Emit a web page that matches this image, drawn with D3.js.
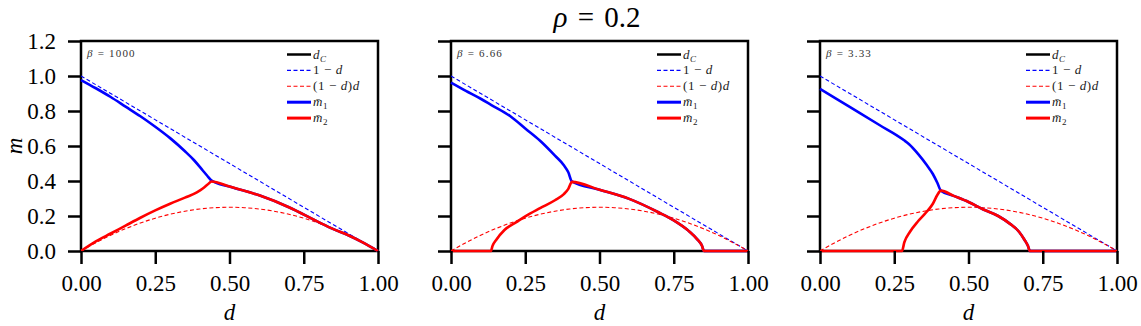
<!DOCTYPE html>
<html>
<head>
<meta charset="utf-8">
<script src="https://cdn.jsdelivr.net/npm/d3@7"></script>
<style>
  body { margin: 0; background: #fff; }
  svg, svg text { font-family: "Liberation Serif", "DejaVu Serif", serif; }
</style>
</head>
<body>
<svg id="plot" width="1141" height="326"></svg>
<script>
// values, [d, m]
var xTicks = [0, 0.25, 0.5, 0.75, 1.0];
var yTicks = [0, 0.2, 0.4, 0.6, 0.8, 1.0, 1.2];
var betaLabels = ['1000', '6.66', '3.33'];
var serif = '"Liberation Serif", "DejaVu Serif", serif';

// dashed guides: 1 - d and (1 - d) d
var oneMinusD = [[0, 1], [1, 0]];
var parabola = [[0, 0], [0.05, 0.0475], [0.1, 0.09], [0.15, 0.1275], [0.2, 0.16], [0.25, 0.1875],
  [0.3, 0.21], [0.35, 0.2275], [0.4, 0.24], [0.45, 0.2475], [0.5, 0.25], [0.55, 0.2475],
  [0.6, 0.24], [0.65, 0.2275], [0.7, 0.21], [0.75, 0.1875], [0.8, 0.16], [0.85, 0.1275],
  [0.9, 0.09], [0.95, 0.0475], [1, 0]];

// beta = 1000
var m1Beta1000 = [[0, 0.977], [0.05, 0.93], [0.1, 0.88], [0.15, 0.825], [0.2, 0.77], [0.25, 0.71],
  [0.3, 0.645], [0.35, 0.57], [0.38, 0.52], [0.41, 0.46], [0.425, 0.43], [0.44, 0.402],
  [0.5, 0.368], [0.6, 0.318], [0.7, 0.25], [0.8, 0.165], [0.85, 0.125], [0.9, 0.09], [0.95, 0.048], [1, 0]];
var m2Beta1000 = [[0, 0], [0.05, 0.055], [0.1, 0.1], [0.15, 0.145], [0.2, 0.19], [0.25, 0.232],
  [0.3, 0.27], [0.35, 0.305], [0.39, 0.335], [0.41, 0.357], [0.425, 0.378], [0.44, 0.397],
  [0.5, 0.368], [0.6, 0.318], [0.7, 0.25], [0.8, 0.165], [0.85, 0.125], [0.9, 0.09], [0.95, 0.048], [1, 0]];

// beta = 6.66
var m1Beta666 = [[0, 0.962], [0.05, 0.915], [0.1, 0.87], [0.136, 0.834], [0.2, 0.77], [0.25, 0.70],
  [0.3, 0.63], [0.35, 0.545], [0.38, 0.49], [0.395, 0.45], [0.407, 0.398],
  [0.5, 0.35], [0.6, 0.298], [0.7, 0.22], [0.75, 0.175], [0.8, 0.115], [0.83, 0.065], [0.845, 0.03],
  [0.852, 0], [1, 0]];
var m2Beta666 = [[0, 0], [0.134, 0], [0.14, 0.03], [0.152, 0.063], [0.18, 0.12], [0.22, 0.165],
  [0.25, 0.198], [0.3, 0.245], [0.35, 0.29], [0.38, 0.325], [0.395, 0.355], [0.407, 0.395],
  [0.5, 0.35], [0.6, 0.298], [0.7, 0.22], [0.75, 0.175], [0.8, 0.115], [0.83, 0.065], [0.845, 0.03],
  [0.852, 0], [1, 0]];

// beta = 3.33
var m1Beta333 = [[0, 0.926], [0.1, 0.823], [0.2, 0.72], [0.282, 0.634], [0.3, 0.61], [0.33, 0.555],
  [0.36, 0.49], [0.38, 0.44], [0.395, 0.39], [0.407, 0.345],
  [0.45, 0.315], [0.5, 0.28], [0.55, 0.237], [0.6, 0.2], [0.64, 0.155], [0.67, 0.11], [0.69, 0.06],
  [0.7, 0.03], [0.707, 0], [1, 0]];
var m2Beta333 = [[0, 0], [0.276, 0], [0.284, 0.05], [0.303, 0.11], [0.33, 0.17], [0.357, 0.22],
  [0.38, 0.27], [0.395, 0.32], [0.407, 0.345],
  [0.45, 0.315], [0.5, 0.28], [0.55, 0.237], [0.6, 0.2], [0.64, 0.155], [0.67, 0.11], [0.69, 0.06],
  [0.7, 0.03], [0.707, 0], [1, 0]];

var panels = [
  { beta: betaLabels[0], m1: m1Beta1000, m2: m2Beta1000 },
  { beta: betaLabels[1], m1: m1Beta666, m2: m2Beta666 },
  { beta: betaLabels[2], m1: m1Beta333, m2: m2Beta333 }
];

var svg = d3.select('#plot');
var lefts = [81, 451, 820];
var plotW = 297;
var plotTop = 41, plotBottom = 251;

// Title
svg.append('text')
  .attr('x', 597).attr('y', 27)
  .attr('text-anchor', 'middle')
  .style('font-family', serif)
  .style('font-size', '29px').style('word-spacing', '3px')
  .html('<tspan font-style="italic">ρ</tspan> = 0.2');

// y label (rotated, like matplotlib)
svg.append('text')
  .attr('transform', 'translate(22,146) rotate(-90)')
  .attr('text-anchor', 'middle')
  .style('font-family', serif)
  .style('font-size', '23px').style('font-style', 'italic')
  .text('m');

var yScale = d3.scaleLinear().domain([0, 1.2]).range([plotBottom, plotTop]);

panels.forEach(function (p, i) {
  var left = lefts[i];
  var xScale = d3.scaleLinear().domain([0, 1]).range([left, left + plotW]);
  var g = svg.append('g');

  var line = d3.line()
    .x(function (d) { return xScale(d[0]); })
    .y(function (d) { return yScale(d[1]); });
  var smooth = d3.line()
    .x(function (d) { return xScale(d[0]); })
    .y(function (d) { return yScale(d[1]); })
    .curve(d3.curveMonotoneX);

  // frame
  g.append('rect')
    .attr('x', left).attr('y', plotTop)
    .attr('width', plotW).attr('height', plotBottom - plotTop)
    .attr('fill', 'none').attr('stroke', '#000').attr('stroke-width', 2.5);

  // dashed guides
  g.append('path').datum(oneMinusD).attr('d', line)
    .attr('fill', 'none').attr('stroke', '#0000ff').attr('stroke-width', 1.1)
    .attr('stroke-dasharray', '4,2.5');
  g.append('path').datum(parabola).attr('d', smooth)
    .attr('fill', 'none').attr('stroke', '#ff0000').attr('stroke-width', 1.1)
    .attr('stroke-dasharray', '4,2.5');

  // order parameters
  g.append('path').datum(p.m1).attr('d', smooth)
    .attr('fill', 'none').attr('stroke', '#0000ff').attr('stroke-width', 2.6);
  g.append('path').datum(p.m2).attr('d', smooth)
    .attr('fill', 'none').attr('stroke', '#ff0000').attr('stroke-width', 2.6);

  // axes
  var xAxis = d3.axisBottom(xScale).tickValues(xTicks)
    .tickFormat(d3.format('.2f')).tickSize(13).tickPadding(11).tickSizeOuter(0);
  var gx = g.append('g').attr('transform', 'translate(0,' + plotBottom + ')').call(xAxis);
  gx.select('.domain').remove();
  gx.selectAll('line').attr('stroke-width', 2.5);
  gx.selectAll('text').style('font-size', '23px').attr('fill', '#000')
    .style('font-family', serif);

  var yAxis = d3.axisLeft(yScale).tickValues(yTicks)
    .tickFormat(i === 0 ? d3.format('.1f') : function () { return ''; })
    .tickSize(13).tickPadding(12).tickSizeOuter(0);
  var gy = g.append('g').attr('transform', 'translate(' + left + ',0)').call(yAxis);
  gy.select('.domain').remove();
  gy.selectAll('line').attr('stroke-width', 2.5);
  gy.selectAll('text').style('font-size', '23px').attr('fill', '#000')
    .style('font-family', serif);

  // x label
  g.append('text')
    .attr('x', left + plotW / 2).attr('y', 320)
    .attr('text-anchor', 'middle')
    .style('font-family', serif)
    .style('font-size', '23px').style('font-style', 'italic')
    .text('d');

  // beta annotation
  g.append('text')
    .attr('x', left + 6).attr('y', 57)
    .style('font-family', serif)
    .style('font-size', '11px').style('letter-spacing', '1.2px')
    .attr('fill', '#333')
    .html('<tspan font-style="italic">β</tspan> = ' + p.beta);

  // legend
  var legend = [
    { color: '#000', dash: null, w: 2.5, label: '<tspan font-style="italic">d</tspan><tspan font-style="italic" font-size="9px" dy="3">C</tspan>' },
    { color: '#0000ff', dash: '4,2.5', w: 1.1, label: '1 − <tspan font-style="italic">d</tspan>' },
    { color: '#ff0000', dash: '4,2.5', w: 1.1, label: '(1 − <tspan font-style="italic">d</tspan>)<tspan font-style="italic">d</tspan>' },
    { color: '#0000ff', dash: null, w: 3, label: '<tspan font-style="italic">m̄</tspan><tspan font-size="9px" dy="3">1</tspan>' },
    { color: '#ff0000', dash: null, w: 3, label: '<tspan font-style="italic">m̄</tspan><tspan font-size="9px" dy="3">2</tspan>' }
  ];
  var lx = left + plotW - 91;
  legend.forEach(function (item, k) {
    var ly = 54.5 + k * 15.9;
    g.append('line')
      .attr('x1', lx).attr('x2', lx + 24)
      .attr('y1', ly).attr('y2', ly)
      .attr('stroke', item.color).attr('stroke-width', item.w)
      .attr('stroke-dasharray', item.dash);
    g.append('text')
      .attr('x', lx + 26).attr('y', ly + 4)
      .style('font-family', serif)
      .style('font-size', '13px').style('letter-spacing', '0.6px')
      .attr('fill', '#222')
      .html(item.label);
  });
});
</script>
</body>
</html>
